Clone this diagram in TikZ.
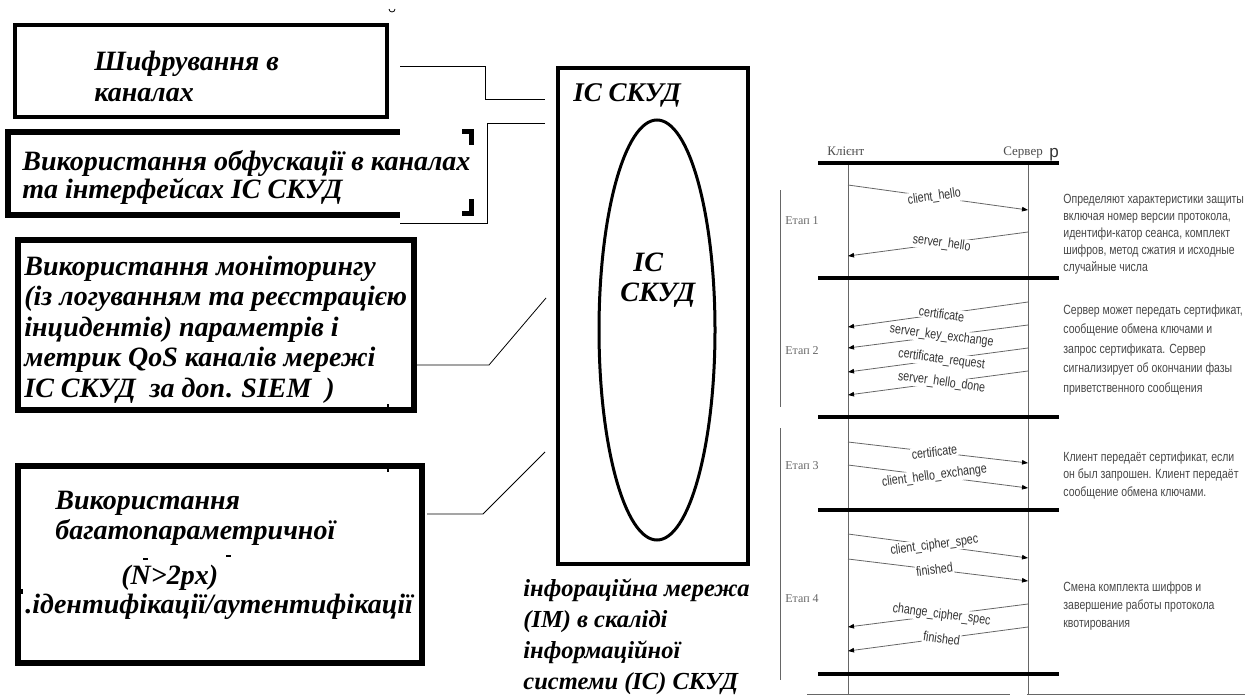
\documentclass[tikz,border=0pt]{standalone}
\usepackage{fontspec}
\setmainfont{Liberation Serif}
\newfontfamily\narrowsans[FakeStretch=0.79]{Liberation Sans}
\newfontfamily\plainsans{Liberation Sans}
\usetikzlibrary{arrows.meta,calc}

\tikzset{every picture/.style={line width=0.75pt}}
\tikzset{
  box/.style={draw, line width=6pt, inner sep=0pt},
  boxtext/.style={anchor=base west, inner sep=0pt, align=left, font=\fontsize{28}{30.5}\selectfont\bfseries\itshape},
  link/.style={line width=0.8pt},
  sepline/.style={line width=4pt},
  life/.style={draw=black!60, line width=0.8pt},
  msg/.style={draw=black!60, line width=0.8pt, -{Triangle[length=6pt,width=4.5pt,color=black]}},
  msglabel/.style={fill=white, inner sep=1pt, sloped, pos=0.48, text=black!80, font=\narrowsans\fontsize{13.5}{13.5}\selectfont},
  stage/.style={anchor=base west, inner sep=0pt, text=black!60, font=\fontsize{12}{12}\selectfont},
  note/.style={anchor=base west, inner sep=0pt, align=left, text=black!72},
}

\begin{document}
\begin{tikzpicture}[x=1pt,y=1pt,yscale=-1,xscale=1]
\useasboundingbox (0,0) rectangle (1249,698);

% Text Node
\node[box, line width=4pt, minimum width=372pt, minimum height=92pt] (enc) at (201,71) {};
\node[boxtext, font=\fontsize{28}{31}\selectfont\bfseries\itshape] (enctxt) at (94,102) {Шифрування в\\каналах};
% Text Node
\draw[line width=6pt] (5,132) -- (400,132);
\draw[line width=6pt] (8,129) -- (8,218);
\draw[line width=6pt] (5,215) -- (400,215);
\draw[line width=5pt] (462,131.5) -| (471,145);
\draw[line width=5pt] (471,199) |- (462,213.5);
\node[boxtext, font=\fontsize{28}{28}\selectfont\bfseries\itshape] (obf) at (22,198) {Використання обфускації в каналах\\та інтерфейсах ІС СКУД};
% Text Node
\node[box, minimum width=396pt, minimum height=170pt] (mon) at (216,325) {};
\node[boxtext] (montxt) at (24,397) {Використання моніторингу\\(із логуванням та реєстрацією\\інцидентів) параметрів і\\метрик \textit{QoS} каналів мережі\\ІС СКУД\ \ за доп\textup{.} SIEM\ \ )};
\draw[line width=2.5pt] (388,404) -- (388,410);
% Text Node
\node[box, minimum width=404pt, minimum height=197pt] (auth) at (220,564.5) {};
\node[boxtext] (auth1) at (55,509.5) {Використання};
\node[boxtext] (auth2) at (55,539.5) {багатопараметричної};
\node[boxtext] (auth3) at (121,584.5) {(N>2px)};
\node[boxtext] (auth4) at (25,613.5) {.ідентифікації/аутентифікації};
\draw[line width=2.5pt] (388,466) -- (388,472);
\draw[line width=5pt] (18,591) -- (23,591);
\draw[line width=1.2pt] (143,559) -- (148,559);
\draw[line width=1.2pt] (226,556) -- (231,556);
\draw[line width=0.8pt] (389,9) arc[start angle=180, end angle=0, radius=3];

% IC SKUD block
\node[box, line width=4pt, minimum width=190pt, minimum height=496pt] (sys) at (653,316) {};
\node[boxtext, font=\fontsize{27}{27}\selectfont\bfseries\itshape] (systop) at (573,102) {ІС СКУД};
\draw[line width=3pt] (657,330) ellipse [x radius=58, y radius=210];
\node[boxtext] (core1) at (633,271) {ІС};
\node[boxtext] (core2) at (620,301) {СКУД};
\node[boxtext, font=\fontsize{24.5}{31}\selectfont\bfseries\itshape] (net) at (523,689.5) {інфораційна мережа\\(ІМ) в скаліді\\інформаційної\\системи (ІС) СКУД};

% Connection
\coordinate (c1a) at (400,66);
\coordinate (c1b) at (545,99);
\draw[link] (c1a) -- ++(85,0) |- (c1b);
% Connection
\coordinate (c2a) at (545,123);
\coordinate (c2b) at (400,223);
\draw[link] (c2a) -- ++(-58,0) |- (c2b);
% Connection
\coordinate (c3a) at (417,365);
\coordinate (c3b) at (546,298);
\draw[link] (c3a) -- ++(72,0) -- (c3b);
% Connection
\coordinate (c4a) at (427,514);
\coordinate (c4b) at (545,452);
\draw[link] (c4a) -- ++(56,0) -- (c4b);

% handshake
\coordinate (cl) at (848,0);
\coordinate (sv) at (1028,0);
\node[stage, text=black!70, font=\fontsize{13}{13}\selectfont] (client) at (827,155) {Клієнт};
\node[stage, text=black!70, font=\fontsize{13}{13}\selectfont] (server) at (1003,155) {Сервер};
\node[stage, text=black!80, font=\plainsans\fontsize{17}{17}\selectfont] (serverp) at (1049,157) {р};
\draw[life] ($(cl)+(0,163)$) -- ($(cl)+(0,694)$);
\draw[life] ($(sv)+(0,163)$) -- ($(sv)+(0,694)$);
\foreach \y in {163,278,417,510,674}
  \draw[sepline] (818,\y) -- (1059,\y);
\draw[life] (807,694) -- (1010,694);
\draw[life] (1027,694) -- (1245,694);
\draw[life] (780,190) -- (780,407);
\draw[life] (780,428) -- (780,680);

\node[stage] (st1) at (785,224) {Етап 1};
\node[stage] (st2) at (785,354) {Етап 2};
\node[stage] (st3) at (785,469) {Етап 3};
\node[stage] (st4) at (785,602) {Етап 4};

% client -> server
\foreach \ya/\yb/\txt in {185/210/client\_hello, 442/463/certificate, 465/488/client\_hello\_exchange, 534/558/client\_cipher\_spec, 559/581/finished}
  \draw[msg] ($(cl)+(0,\ya)$) -- node[msglabel] {\txt} ($(sv)+(0,\yb)$);
% server -> client
\foreach \ya/\yb/\txt in {232/256/server\_hello, 302/327/certificate, 325/348/server\_key\_exchange, 348/372/certificate\_request, 371/395/server\_hello\_done, 604/627/change\_cipher\_spec, 627/651/finished}
  \draw[msg] ($(sv)+(0,\ya)$) -- node[msglabel] {\txt} ($(cl)+(0,\yb)$);

\node[note, font=\narrowsans\fontsize{13.3}{17}\selectfont] (d1) at (1063,271) {Определяют характеристики защиты\\включая номер версии протокола,\\идентифи-катор сеанса, комплект\\шифров, метод сжатия и исходные\\случайные числа};
\node[note, font=\narrowsans\fontsize{13.3}{19.5}\selectfont] (d2) at (1063,392) {Сервер может передать сертификат,\\сообщение обмена ключами и\\запрос сертификата. Сервер\\сигнализирует об окончании фазы\\приветственного сообщения};
\node[note, font=\narrowsans\fontsize{13.3}{17.5}\selectfont] (d3) at (1063,496) {Клиент передаёт сертификат, если\\он был запрошен. Клиент передаёт\\сообщение обмена ключами.};
\node[note, font=\narrowsans\fontsize{13.3}{18}\selectfont] (d4) at (1063,627) {Смена комплекта шифров и\\завершение работы протокола\\квотирования};

\end{tikzpicture}
\end{document}
